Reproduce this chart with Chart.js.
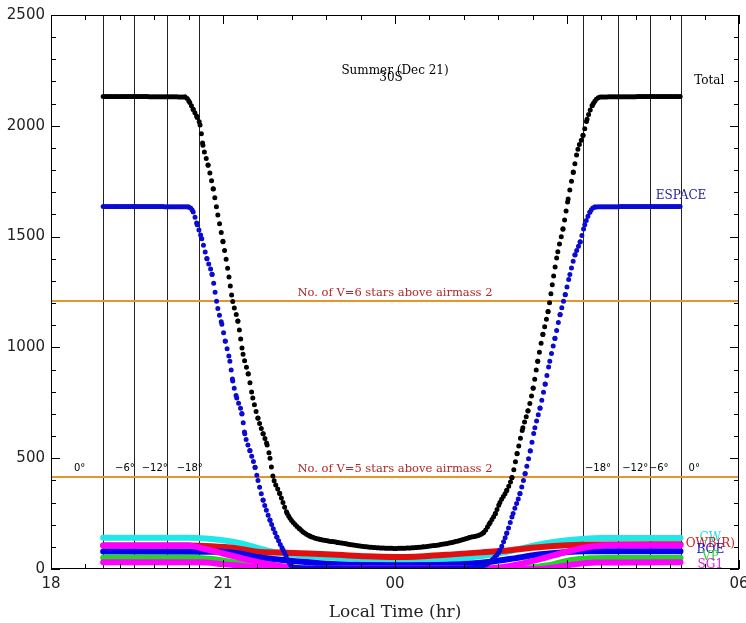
<!DOCTYPE html>
<html lang="en">
<head>
    <meta charset="UTF-8">
    <title>Summer (Dec 21) 30S</title>
    <script src="https://cdn.jsdelivr.net/npm/chart.js@4.4.1/dist/chart.umd.min.js"></script>
    <style>
        body { margin: 0; background: #fff; }
        canvas { display: block; }
    </style>
    <script>
        // local time in hours (24 = midnight), values = number of stars
        var totalHours = [18.91, 20.34, 20.42, 20.48, 20.55, 20.60, 20.65, 20.74, 20.83, 20.91,
                          21.00, 21.09, 21.17, 21.26, 21.35, 21.44, 21.52, 21.61, 21.70, 21.77,
                          21.82, 21.87, 21.99, 22.12, 22.34, 22.52, 22.70, 23.00, 23.50, 24.00,
                          24.50, 25.00, 25.30, 25.55, 25.66, 25.75, 25.83, 25.95, 26.04, 26.13,
                          26.23, 26.32, 26.41, 26.49, 26.58, 26.67, 26.76, 26.84, 26.93, 27.02,
                          27.11, 27.19, 27.28, 27.35, 27.44, 27.58, 28.98];
        var total = [2132, 2130, 2105, 2074, 2038, 2004, 1912, 1822, 1715, 1598,
                     1477, 1342, 1207, 1118, 969, 880, 772, 680, 610, 560,
                     500, 420, 341, 251, 180, 148, 133, 120, 100, 93,
                     100, 120, 142, 166, 210, 250, 300, 355, 413, 521,
                     637, 714, 817, 938, 1059, 1162, 1311, 1432, 1535, 1670,
                     1791, 1894, 1957, 2029, 2092, 2130, 2132];

        var espaceHours = [18.91, 20.40, 20.48, 20.55, 20.63, 20.72, 20.81, 20.86, 20.91, 20.98,
                           21.04, 21.12, 21.17, 21.24, 21.33, 21.38, 21.47, 21.56, 21.61, 21.70,
                           21.82, 21.94, 22.05, 22.22, 22.50, 23.00, 24.00, 25.00, 25.40, 25.59,
                           25.71, 25.83, 25.95, 26.06, 26.18, 26.27, 26.36, 26.44, 26.53, 26.62,
                           26.70, 26.79, 26.88, 26.97, 27.05, 27.14, 27.23, 27.31, 27.40, 27.49,
                           28.98];
        var espace = [1636, 1634, 1611, 1553, 1490, 1400, 1329, 1252, 1176, 1104,
                      1028, 938, 848, 772, 700, 610, 534, 458, 399, 310,
                      220, 144, 85, 9, 5, 3, 2, 3, 8, 20,
                      45, 85, 162, 251, 341, 431, 534, 637, 727, 835,
                      938, 1041, 1149, 1239, 1329, 1418, 1477, 1553, 1611, 1634,
                      1636];

        var cwHours = [18.91, 20.40, 20.70, 21.00, 21.30, 21.50, 21.80, 22.00, 22.50, 23.00, 24.00, 25.00, 25.50, 26.00, 26.30, 26.60, 27.00, 27.30, 27.60, 28.98];
        var cw      = [141, 141, 138, 130, 117, 103, 82, 72, 58, 50, 40, 45, 58, 80, 99, 115, 130, 137, 140, 140];

        var owbrHours = [18.91, 20.40, 20.80, 21.20, 21.60, 22.00, 22.50, 23.00, 23.50, 24.00, 24.50, 25.00, 25.50, 26.00, 26.50, 27.00, 27.50, 28.98];
        var owbr      = [106, 106, 103, 95, 78, 74, 70, 64, 57, 54, 58, 66, 75, 85, 98, 107, 111, 112];

        var owbHours = [18.91, 20.40, 20.60, 21.00, 21.50, 22.00, 22.50, 25.50, 26.00, 26.50, 27.00, 27.40, 27.70, 28.98];
        var owb      = [106, 106, 96, 70, 38, 14, 2, 2, 14, 42, 78, 100, 107, 107];

        var boeHours = [18.91, 21.00, 21.30, 21.65, 22.00, 22.50, 23.00, 24.00, 25.00, 25.50, 26.00, 26.50, 27.00, 27.30, 28.98];
        var boe      = [79, 78, 69, 52, 42, 30, 21, 17, 20, 28, 45, 65, 77, 80, 80];

        var vpHours = [18.91, 20.40, 20.80, 21.20, 21.60, 22.00, 22.50, 25.80, 26.10, 26.40, 26.70, 27.05, 27.40, 27.70, 28.98];
        var vp      = [51, 51, 45, 30, 15, 5, 0, 0, 3, 8, 18, 40, 49, 50, 50];

        var sg1Hours = [18.91, 20.60, 21.00, 21.50, 22.00, 22.50, 26.50, 26.80, 27.10, 27.50, 28.98];
        var sg1      = [30, 30, 22, 10, 3, 0, 0, 8, 20, 29, 31];

        // twilight times: sunset, -6, -12, -18 ... -18, -12, -6, sunrise
        var twilightHours = [18.91, 19.45, 20.03, 20.59, 27.28, 27.89, 28.45, 28.98];
        var twilightLabels = ['0°', '\u22126°', '\u221212°', '\u221218°', '\u221218°', '\u221212°', '\u22126°', '0°'];
        // star counts above airmass 2
        var starLevels = [1210, 417];
        var starLabels = ['No. of V=6 stars above airmass 2', 'No. of V=5 stars above airmass 2'];
        var xTickValues = [18, 21, 24, 27, 30];

        function pts(xs, ys) {
            return xs.map(function (h, i) { return {x: h, y: ys[i]}; });
        }

        window.onload = function () {
            var serif = 'DejaVu Serif';
            var sans = 'DejaVu Sans';

            // dotted look of the big curves: one dot per time step
            var dotted = {
                borderDash: function (c) {
                    var dx = Math.abs(c.p1.x - c.p0.x), dy = Math.abs(c.p1.y - c.p0.y);
                    var gap = dx > 0.01 ? Math.min(1.7 * Math.hypot(dx, dy) / dx, 9) : 9;
                    return [0, gap];
                }
            };

            function curve(label, xs, ys, color, width, dots) {
                return {
                    label: label, data: pts(xs, ys), showLine: true,
                    borderColor: color, backgroundColor: color,
                    borderWidth: width, pointRadius: 0,
                    cubicInterpolationMode: 'monotone',
                    borderCapStyle: 'round',
                    segment: dots ? dotted : undefined
                };
            }

            var overlay = {
                id: 'overlay',
                beforeDatasetsDraw: function (chart) {
                    var ctx = chart.ctx, a = chart.chartArea, x = chart.scales.x, y = chart.scales.y;
                    ctx.save();
                    ctx.strokeStyle = '#222';
                    ctx.lineWidth = 1;
                    twilightHours.forEach(function (h) {
                        var px = Math.round(x.getPixelForValue(h)) + 0.5;
                        ctx.beginPath(); ctx.moveTo(px, a.top); ctx.lineTo(px, a.bottom); ctx.stroke();
                    });
                    ctx.strokeStyle = '#e3962f';
                    ctx.lineWidth = 2;
                    starLevels.forEach(function (v) {
                        var py = Math.round(y.getPixelForValue(v));
                        ctx.beginPath(); ctx.moveTo(a.left, py); ctx.lineTo(a.right, py); ctx.stroke();
                    });
                    ctx.restore();
                },
                afterDatasetsDraw: function (chart) {
                    var ctx = chart.ctx, a = chart.chartArea, x = chart.scales.x, y = chart.scales.y;
                    ctx.save();
                    // frame
                    ctx.strokeStyle = '#000';
                    ctx.lineWidth = 1;
                    ctx.strokeRect(a.left + 0.5, a.top + 0.5, a.right - a.left - 1, a.bottom - a.top - 1);
                    // inward ticks
                    ctx.beginPath();
                    for (var i = 0; i <= 20; i++) {
                        var hx = 18 + i * 0.6;
                        var len = (i % 5 === 0) ? 9 : 5;
                        var px = Math.round(x.getPixelForValue(hx)) + 0.5;
                        ctx.moveTo(px, a.bottom); ctx.lineTo(px, a.bottom - len);
                        ctx.moveTo(px, a.top); ctx.lineTo(px, a.top + len);
                    }
                    for (var v = 0; v <= 2500; v += 100) {
                        var l2 = (v % 500 === 0) ? 9 : 5;
                        var py = Math.round(y.getPixelForValue(v)) + 0.5;
                        ctx.moveTo(a.left, py); ctx.lineTo(a.left + l2, py);
                        ctx.moveTo(a.right, py); ctx.lineTo(a.right - l2, py);
                    }
                    ctx.stroke();

                    function text(s, hx, vy, color, font, align) {
                        ctx.fillStyle = color;
                        ctx.font = font;
                        ctx.textAlign = align || 'center';
                        ctx.textBaseline = 'middle';
                        ctx.fillText(s, x.getPixelForValue(hx), y.getPixelForValue(vy));
                    }

                    // title
                    text('Summer (Dec 21)', 24.0, 2246, '#000', '12px "' + serif + '"');
                    text('30S', 23.93, 2216, '#000', '12px "' + serif + '"');

                    // star level captions
                    text(starLabels[0], 24.0, starLevels[0] + 36, '#b02828', '11.5px "' + serif + '"');
                    text(starLabels[1], 24.0, starLevels[1] + 36, '#b02828', '11.5px "' + serif + '"');

                    // twilight captions
                    var twX = [18.5, 19.29, 19.81, 20.42, 27.54, 28.19, 28.60, 29.22];
                    twilightLabels.forEach(function (s, i) {
                        text(s, twX[i], 453, '#000', '10px "' + sans + '"');
                    });

                    // curve names
                    var f = '12px "' + serif + '"';
                    text('Total', 29.48, 2204, '#000', f);
                    text('ESPACE', 28.99, 1683, '#2424a8', f);
                    text('CW', 29.5, 141, '#22dede', f);
                    text('OWB(R)', 29.5, 112, '#d02020', f);
                    text('BOE', 29.5, 86, '#1010d0', f);
                    text('VP', 29.5, 54, '#30d030', f);
                    text('SG1', 29.5, 18, '#e020e0', f);
                    ctx.restore();
                }
            };

            new Chart(document.getElementById('chart'), {
                type: 'scatter',
                data: {
                    datasets: [
                        curve('Total', totalHours, total, '#000000', 5, true),
                        curve('ESPACE', espaceHours, espace, '#0a0ad2', 5, true),
                        curve('SG1', sg1Hours, sg1, '#ff00ff', 6, false),
                        curve('OWB', owbHours, owb, '#ff00ff', 6, false),
                        curve('VP', vpHours, vp, '#22d622', 6, false),
                        curve('BOE', boeHours, boe, '#0000f0', 6, false),
                        curve('OWB(R)', owbrHours, owbr, '#e01010', 6, false),
                        curve('CW', cwHours, cw, '#20e8e8', 6, false)
                    ]
                },
                options: {
                    responsive: false,
                    animation: false,
                    layout: {padding: {top: 12, right: 7, left: 0, bottom: 0}},
                    plugins: {legend: {display: false}, tooltip: {enabled: false}},
                    scales: {
                        x: {
                            type: 'linear', min: 18, max: 30,
                            grid: {display: false, drawTicks: false},
                            border: {display: false},
                            afterBuildTicks: function (s) {
                                s.ticks = xTickValues.map(function (v) { return {value: v}; });
                            },
                            ticks: {
                                autoSkip: false, maxRotation: 0, padding: 6, color: '#222',
                                font: {family: sans, size: 15},
                                callback: function (v) { return String(v % 24).padStart(2, '0'); }
                            },
                            title: {
                                display: true, text: 'Local Time (hr)', color: '#222',
                                font: {family: serif, size: 17},
                                padding: {top: 4, bottom: 0}
                            },
                            afterFit: function (s) { s.height = 54; s.paddingLeft = 0; s.paddingRight = 0; }
                        },
                        y: {
                            min: 0, max: 2500,
                            grid: {display: false, drawTicks: false},
                            border: {display: false},
                            ticks: {
                                stepSize: 500, padding: 6, color: '#222', font: {family: sans, size: 15},
                                callback: function (v) { return String(v); }
                            },
                            afterFit: function (s) { s.width = 51; }
                        }
                    }
                },
                plugins: [overlay]
            });
        };
    </script>
</head>
<body>
    <canvas id="chart" width="746" height="623"></canvas>
</body>
</html>
